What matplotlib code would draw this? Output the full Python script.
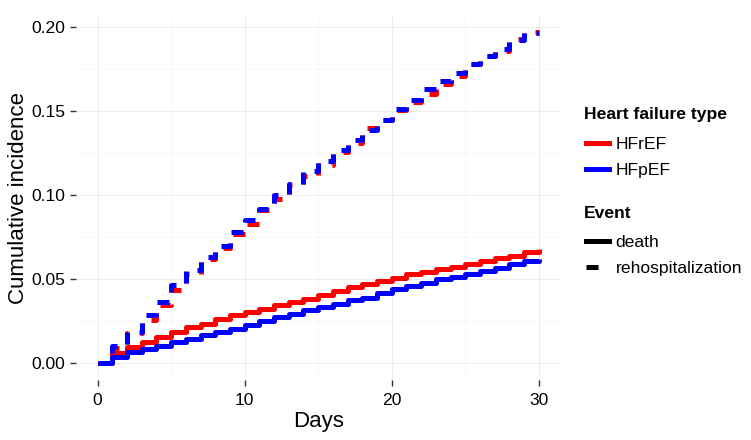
import matplotlib
matplotlib.use("Agg")
import matplotlib.pyplot as plt
from matplotlib.lines import Line2D
from matplotlib.ticker import MultipleLocator, FormatStrFormatter

plt.rcParams['font.family'] = ['Liberation Sans', 'DejaVu Sans']

# data (value holding from day d to d+1)
days = list(range(0, 31))

death_hfref = [0, 0.006, 0.0097, 0.0127, 0.0157, 0.0186, 0.0216, 0.0236, 0.0266, 0.0286,
               0.0305, 0.0325, 0.0345, 0.0365, 0.0385, 0.0405, 0.043, 0.0455, 0.047, 0.049,
               0.051, 0.053, 0.0545, 0.056, 0.0575, 0.059, 0.061, 0.0625, 0.064, 0.066, 0.068]
death_hfpef = [0, 0.004, 0.0067, 0.0087, 0.0103, 0.0127, 0.0147, 0.0167, 0.0186, 0.0206,
               0.0226, 0.0252, 0.0276, 0.0296, 0.0315, 0.0335, 0.0355, 0.0375, 0.039, 0.0418,
               0.0445, 0.046, 0.048, 0.050, 0.0515, 0.053, 0.055, 0.057, 0.059, 0.061, 0.062]
rehosp_hfref = [0, 0.009, 0.018, 0.0256, 0.0345, 0.0435, 0.0534, 0.062, 0.0687, 0.077,
                0.083, 0.091, 0.0976, 0.106, 0.1115, 0.118, 0.126, 0.1314, 0.140, 0.145,
                0.151, 0.1556, 0.1605, 0.166, 0.171, 0.178, 0.183, 0.186, 0.1933, 0.197, 0.197]
rehosp_hfpef = [0, 0.010, 0.0187, 0.0285, 0.0365, 0.0465, 0.0554, 0.063, 0.070, 0.078,
                0.085, 0.092, 0.100, 0.107, 0.1145, 0.1204, 0.127, 0.1327, 0.139, 0.145,
                0.1516, 0.157, 0.163, 0.168, 0.173, 0.178, 0.183, 0.1873, 0.1923, 0.1968, 0.1968]

hf_types = ["HFrEF", "HFpEF"]
hf_colors = {"HFrEF": "#FF0000", "HFpEF": "#0000FF"}
events = ["death", "rehospitalization"]

LW = 3.6
DASH = (2.4, 2.4)

fig = plt.figure(figsize=(7.51, 4.40), dpi=100)
ax = fig.add_axes([0.1007, 0.1368, 0.646, 0.8275])

series = [
    ("HFrEF", "death", death_hfref),
    ("HFrEF", "rehospitalization", rehosp_hfref),
    ("HFpEF", "death", death_hfpef),
    ("HFpEF", "rehospitalization", rehosp_hfpef),
]
for hf, ev, vals in series:
    line, = ax.step(days, vals, where="post", color=hf_colors[hf], linewidth=LW,
                    solid_capstyle="butt", dash_capstyle="butt")
    if ev == "rehospitalization":
        line.set_dashes(DASH)

ax.set_xlim(-1.5, 31.5)
ax.set_ylim(-0.00985, 0.2069)
ax.xaxis.set_major_locator(MultipleLocator(10))
ax.xaxis.set_minor_locator(MultipleLocator(5))
ax.yaxis.set_major_locator(MultipleLocator(0.05))
ax.yaxis.set_minor_locator(MultipleLocator(0.025))
ax.yaxis.set_major_formatter(FormatStrFormatter("%.2f"))

ax.grid(which="major", color="#EDEDED", linewidth=0.8)
ax.grid(which="minor", color="#F5F5F5", linewidth=0.5)
ax.set_axisbelow(True)
for s in ax.spines.values():
    s.set_visible(False)
ax.tick_params(which="major", length=4.3, width=1.0, color="#333333",
               labelsize=12.6, labelcolor="black", pad=3.0)
ax.tick_params(axis="x", which="major", pad=5.0)
ax.tick_params(which="minor", length=0)

ax.set_xlabel("Days", fontsize=16, labelpad=2)
ax.set_ylabel("Cumulative incidence", fontsize=16, labelpad=2)

# legends: titles as text, entries as legends
hf_handles = [Line2D([0], [0], color=hf_colors[h], linewidth=LW) for h in hf_types]
ev_handles = [Line2D([0], [0], color="black", linewidth=LW),
              Line2D([0], [0], color="black", linewidth=LW, dashes=DASH)]

leg_kw = dict(loc="upper left", frameon=False, fontsize=12.6, handlelength=1.3,
              handletextpad=0.4, labelspacing=0.58, borderpad=0, borderaxespad=0)
fig.text(584 / 751, 1 - 115 / 440, "Heart failure type", fontsize=12.6,
         fontweight="bold", va="center", ha="left")
fig.legend(hf_handles, hf_types, bbox_to_anchor=(586 / 751, 1 - 137 / 440), **leg_kw)
fig.text(584 / 751, 1 - 213 / 440, "Event", fontsize=12.6,
         fontweight="bold", va="center", ha="left")
fig.legend(ev_handles, events, bbox_to_anchor=(586 / 751, 1 - 235 / 440), **leg_kw)

fig.savefig("out.png", dpi=100)
